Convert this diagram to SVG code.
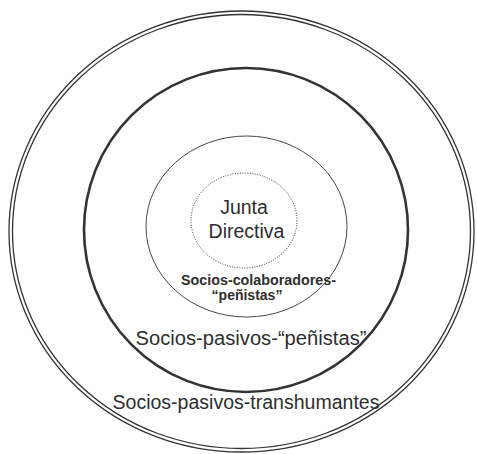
<svg xmlns="http://www.w3.org/2000/svg" width="477" height="454" viewBox="0 0 477 454">
<style>
.t{font-family:"Liberation Sans",Arial,sans-serif;fill:#2e2e2e;text-anchor:middle}
.b{font-weight:bold}
.ring{fill:none;stroke:#333}
</style>
<rect width="477" height="454" fill="#fff"/>
<g id="transhumantes">
<ellipse class="ring" cx="241.5" cy="231.5" rx="232.5" ry="220.5" stroke-width="1.3"/>
<ellipse class="ring" cx="241.5" cy="231.5" rx="229" ry="217" stroke-width="1.3"/>
<text class="t" x="246" y="409" font-size="19.5" textLength="267" lengthAdjust="spacingAndGlyphs">Socios-pasivos-transhumantes</text>
</g>
<g id="pasivos-penistas">
<ellipse class="ring" cx="246" cy="230" rx="162" ry="162" stroke-width="2.6"/>
<text class="t" x="251" y="345" font-size="20" textLength="231" lengthAdjust="spacingAndGlyphs">Socios-pasivos-“peñistas”</text>
</g>
<g id="colaboradores">
<ellipse class="ring" cx="246.5" cy="226.5" rx="100.5" ry="90.5" stroke-width="0.9" stroke="#555"/>
<text class="t b" x="258.5" y="284.5" font-size="14" textLength="155" lengthAdjust="spacingAndGlyphs">Socios-colaboradores-</text>
<text class="t b" x="247" y="299.5" font-size="14">“peñistas”</text>
</g>
<g id="junta">
<ellipse class="ring" cx="244" cy="220.5" rx="53" ry="47.5" stroke-width="1" stroke="#666" stroke-dasharray="1 1.5"/>
<text class="t" x="244" y="214" font-size="19.5">Junta</text>
<text class="t" x="246.5" y="238" font-size="19.5">Directiva</text>
</g>
</svg>
